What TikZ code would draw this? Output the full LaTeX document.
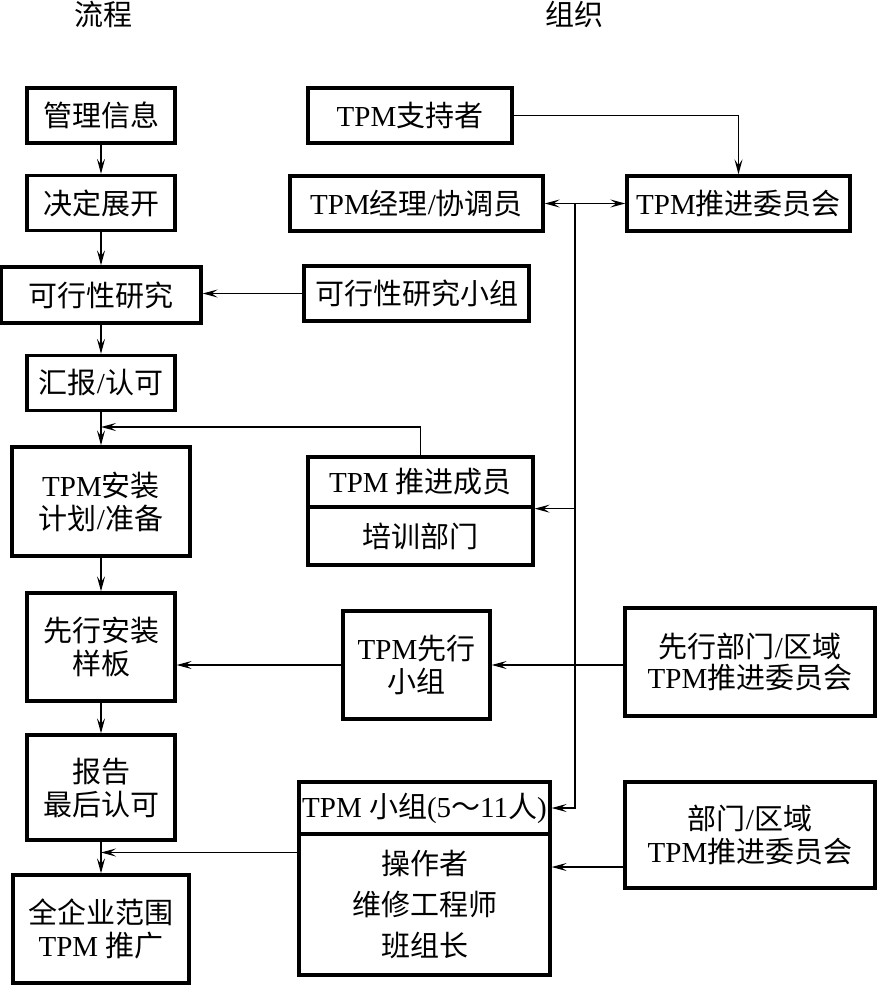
\documentclass[tikz,border=0pt]{standalone}
\usepackage{fontspec}
\setmainfont{Liberation Serif}
\newfontfamily\cjkf{Noto Sans CJK SC}
\usetikzlibrary{arrows.meta}
\newcommand\zh[1]{{\cjkf #1}}
\begin{document}
\begin{tikzpicture}[x=1pt,y=-1pt,
  box/.style={draw, line width=3.3pt, inner sep=0pt, align=center, font=\fontsize{29}{33}\selectfont},
  ttl/.style={inner sep=0pt, font=\fontsize{29}{33}\selectfont},
  arr/.style={-{Stealth[length=15pt,width=8pt,inset=6pt]}, line width=1.3pt},
  arrb/.style={{Stealth[length=15pt,width=8pt,inset=6pt]}-{Stealth[length=15pt,width=8pt,inset=6pt]}, line width=1.3pt}]
\useasboundingbox (0,0) rectangle (876,985);
% titles
\node[ttl] (t1) at (103,14) {\zh{流程}};
\node[ttl] (t2) at (574,14) {\zh{组织}};
% left column
\node[box, minimum width=148, minimum height=55] (b1) at (101,115.5) {\zh{管理信息}};
\node[box, minimum width=148, minimum height=55] (b2) at (101,203) {\zh{决定展开}};
\node[box, minimum width=200, minimum height=56] (b3) at (101,295) {\zh{可行性研究}};
\node[box, minimum width=148, minimum height=55] (b4) at (101,383) {\zh{汇报}/\zh{认可}};
\node[box, minimum width=178, minimum height=109] (b5) at (101,501.5) {TPM\zh{安装}\\\zh{计划}/\zh{准备}};
\node[box, minimum width=148, minimum height=108] (b6) at (101,647) {\zh{先行安装}\\\zh{样板}};
\node[box, minimum width=148, minimum height=105] (b7) at (101,787.5) {\zh{报告}\\\zh{最后认可}};
\node[box, minimum width=176, minimum height=108] (b8) at (101,929) {\zh{全企业范围}\\TPM \zh{推广}};
% right side
\node[box, minimum width=204, minimum height=55] (sup) at (410,115.5) {TPM\zh{支持者}};
\node[box, minimum width=253, minimum height=55] (mgr) at (416.5,203.5) {TPM\zh{经理}/\zh{协调员}};
\node[box, minimum width=223, minimum height=55] (comm) at (738.5,203.5) {TPM\zh{推进委员会}};
\node[box, minimum width=225, minimum height=55] (fsg) at (416.5,293.5) {\zh{可行性研究小组}};
\node[box, minimum width=225, minimum height=50] (promt) at (420.5,482) {TPM \zh{推进成员}};
\node[box, minimum width=225, minimum height=58] (promb) at (420.5,536) {\zh{培训部门}};
\node[box, minimum width=147, minimum height=108] (pg) at (416.5,665) {TPM\zh{先行}\\\zh{小组}};
\node[box, minimum width=250, minimum height=108, font=\fontsize{29}{31}\selectfont] (pdept) at (750,662) {\zh{先行部门}/\zh{区域}\\TPM\zh{推进委员会}};
\node[box, minimum width=251, minimum height=52] (tst) at (424.5,808) {TPM \zh{小组}(5\zh{～}11\zh{人})};
\node[box, minimum width=251, minimum height=141, font=\fontsize{29}{41}\selectfont] (tsb) at (424.5,904.5) {\zh{操作者}\\\zh{维修工程师}\\\zh{班组长}};
\node[box, minimum width=250, minimum height=106] (dept) at (750,835) {\zh{部门}/\zh{区域}\\TPM\zh{推进委员会}};
% left flow arrows
\draw[arr] (b1.south) -- (b2.north);
\draw[arr] (b2.south) -- (b3.north);
\draw[arr] (b3.south) -- (b4.north);
\draw[arr] (b4.south) -- (b5.north);
\draw[arr] (b5.south) -- (b6.north);
\draw[arr] (b6.south) -- (b7.north);
\draw[arr] (b7.south) -- (b8.north);
% organisation connectors
\draw[arr] (sup.east) -| (comm.north);
\draw[arrb] (mgr.east) -- (comm.west);
\coordinate (bus) at (575,203.5);
\draw[arr] (bus) |- (tst.east);
\draw[arr] (bus |- promt.south east) -- (promt.south east);
\draw[arr] (fsg.west) -- (fsg.west -| b3.east);
\coordinate (jA) at (101,427);
\draw[arr] (promt.north) |- (jA);
\draw[arr] (pdept.west |- pg.east) -- (pg.east);
\draw[arr] (pg.west) -- (pg.west -| b6.east);
\coordinate (d1) at ([yshift=-32pt]dept.west);
\draw[arr] (d1) -- (d1 -| tsb.east);
\coordinate (s1) at ([yshift=52pt]tsb.west);
\draw[arr] (s1) -- (s1 -| b8.north);
\end{tikzpicture}
\end{document}
